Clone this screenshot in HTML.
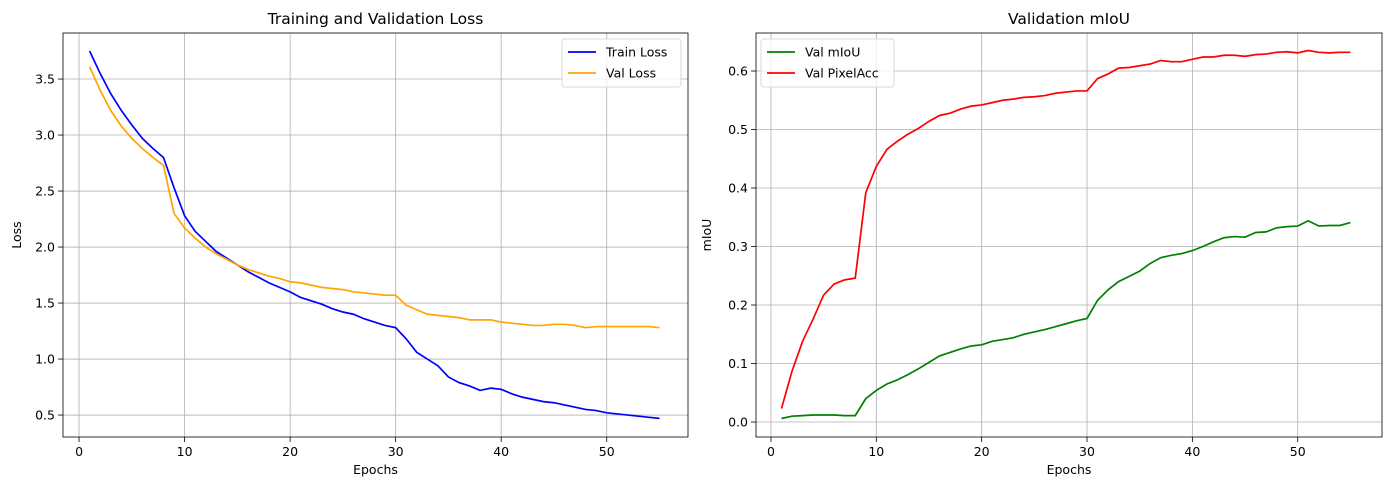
<!DOCTYPE html>
<html><head><meta charset="utf-8"><style>
body{margin:0;background:#fff;font-family:"Liberation Sans",sans-serif}
svg text{font-family:"DejaVu Sans","Liberation Sans",sans-serif}
</style></head><body>
<svg id="fig" width="1389" height="490" xmlns="http://www.w3.org/2000/svg"></svg>
<script>
const epochs = Array.from({length:55},(_,i)=>i+1);
const trainLoss=[3.75,3.55,3.37,3.22,3.09,2.97,2.88,2.80,2.53,2.28,2.14,2.05,1.96,1.90,1.84,1.78,1.73,1.68,1.64,1.60,1.55,1.52,1.49,1.45,1.42,1.40,1.36,1.33,1.30,1.28,1.18,1.06,1.00,0.94,0.84,0.79,0.76,0.72,0.74,0.73,0.69,0.66,0.64,0.62,0.61,0.59,0.57,0.55,0.54,0.52,0.51,0.50,0.49,0.48,0.47];
const valLoss=[3.61,3.40,3.22,3.08,2.97,2.88,2.80,2.73,2.30,2.17,2.08,2.00,1.94,1.89,1.84,1.80,1.77,1.74,1.72,1.69,1.68,1.66,1.64,1.63,1.62,1.60,1.59,1.58,1.57,1.57,1.48,1.44,1.40,1.39,1.38,1.37,1.35,1.35,1.35,1.33,1.32,1.31,1.30,1.30,1.31,1.31,1.30,1.28,1.29,1.29,1.29,1.29,1.29,1.29,1.28];
const valMiou=[0.006,0.010,0.011,0.012,0.012,0.012,0.011,0.011,0.040,0.054,0.065,0.072,0.081,0.091,0.102,0.113,0.119,0.125,0.130,0.132,0.138,0.141,0.144,0.150,0.154,0.158,0.163,0.168,0.173,0.177,0.208,0.226,0.240,0.249,0.258,0.271,0.281,0.285,0.288,0.293,0.300,0.308,0.315,0.317,0.316,0.324,0.325,0.332,0.334,0.335,0.344,0.335,0.336,0.336,0.341];
const valPixAcc=[0.023,0.087,0.138,0.176,0.217,0.236,0.243,0.246,0.392,0.437,0.466,0.480,0.492,0.502,0.514,0.524,0.528,0.535,0.540,0.542,0.546,0.550,0.552,0.555,0.556,0.558,0.562,0.564,0.566,0.566,0.587,0.595,0.605,0.606,0.609,0.612,0.618,0.616,0.616,0.620,0.624,0.624,0.627,0.627,0.625,0.628,0.629,0.632,0.633,0.631,0.635,0.632,0.631,0.632,0.632];
const xTicks=[0,10,20,30,40,50];
const lossTicks=[0.5,1.0,1.5,2.0,2.5,3.0,3.5];
const miouTicks=[0.0,0.1,0.2,0.3,0.4,0.5,0.6];

const NS="http://www.w3.org/2000/svg";
const svg=document.getElementById('fig');
function el(tag,attrs,parent){const e=document.createElementNS(NS,tag);for(const k in attrs)e.setAttribute(k,attrs[k]);(parent||svg).appendChild(e);return e;}

function panel(o){
  const g=el('g',{});
  
  
  const sx=v=>o.x0+(v-o.xmin)/(o.xmax-o.xmin)*(o.x1-o.x0);
  const sy=v=>o.y1-(v-o.ymin)/(o.ymax-o.ymin)*(o.y1-o.y0);
  xTicks.forEach(t=>{
    const X=sx(t);
    const gl=el('line',{x1:X,x2:X,y1:o.y0,y2:o.y1,stroke:'#b0b0b0','stroke-width':0.8},g);
    
    
    el('line',{x1:X,x2:X,y1:o.y1,y2:o.y1+5,stroke:'#000','stroke-width':0.8},g);
    const tx=el('text',{x:X,y:o.y1+19,'font-size':12.5,'text-anchor':'middle'},g);tx.textContent=t;
    
    
  });
  o.yTicks.forEach(t=>{
    const Y=sy(t);
    const gl=el('line',{x1:o.x0,x2:o.x1,y1:Y,y2:Y,stroke:'#b0b0b0','stroke-width':0.8},g);
    
    
    el('line',{x1:o.x0-5,x2:o.x0,y1:Y,y2:Y,stroke:'#000','stroke-width':0.8},g);
    const tx=el('text',{x:o.x0-8,y:Y+4.5,'font-size':12.5,'text-anchor':'end'},g);tx.textContent=t.toFixed(1);
    
    
  });
  o.series.forEach(s=>{
    const p=el('polyline',{points:s.data.map((v,i)=>sx(epochs[i])+','+sy(v)).join(' '),fill:'none',stroke:s.color,'stroke-width':1.7},g);
    
    
  });
  const fr=el('rect',{x:o.x0,y:o.y0,width:o.x1-o.x0,height:o.y1-o.y0,fill:'none',stroke:'#000','stroke-width':0.8},g);
  
  
  const ti=el('text',{x:(o.x0+o.x1)/2,y:o.y0-9,'font-size':15.5,'text-anchor':'middle'},g);ti.textContent=o.title;
  
  
  const xl=el('text',{x:(o.x0+o.x1)/2,y:o.y1+37,'font-size':12.5,'text-anchor':'middle'},g);xl.textContent='Epochs';
  
  
  const yx=o.x0-o.ylabOff, yy=(o.y0+o.y1)/2;
  const yl=el('text',{x:yx,y:yy,'font-size':12.5,'text-anchor':'middle',transform:`rotate(-90 ${yx} ${yy})`},g);yl.textContent=o.ylabel;
  
  
  // legend
  const lg=el('g',{},g);
  
  
  el('rect',{x:o.lx,y:o.ly,width:o.lw,height:48,rx:3,fill:'#fff','fill-opacity':0.8,stroke:'#d0d0d0','stroke-width':0.8},lg);
  o.series.forEach((s,i)=>{
    const yy2=o.ly+13+i*21;
    const e=el('g',{},lg);
    
    
    el('line',{x1:o.lx+6,x2:o.lx+34,y1:yy2,y2:yy2,stroke:s.color,'stroke-width':1.7},e);
    const t=el('text',{x:o.lx+44,y:yy2+4.5,'font-size':12.5},e);t.textContent=s.label;
  });
}
panel({name:'loss-chart',x0:63,x1:688,y0:33,y1:437,xmin:-1.52,xmax:57.7,ymin:0.304,ymax:3.911,
  yTicks:lossTicks,title:'Training and Validation Loss',ylabel:'Loss',ylabOff:42,lx:562,ly:39,lw:119,
  series:[{id:'train-loss-line',data:trainLoss,color:'#0000ff',label:'Train Loss'},{id:'val-loss-line',data:valLoss,color:'#ffa500',label:'Val Loss'}]});
panel({name:'miou-chart',x0:756,x1:1382,y0:33,y1:437,xmin:-1.42,xmax:58.0,ymin:-0.0256,ymax:0.665,
  yTicks:miouTicks,title:'Validation mIoU',ylabel:'mIoU',ylabOff:45,lx:761,ly:39,lw:133,
  series:[{id:'val-miou-line',data:valMiou,color:'#008000',label:'Val mIoU'},{id:'val-pixelacc-line',data:valPixAcc,color:'#ff0000',label:'Val PixelAcc'}]});
</script>
</body></html>
